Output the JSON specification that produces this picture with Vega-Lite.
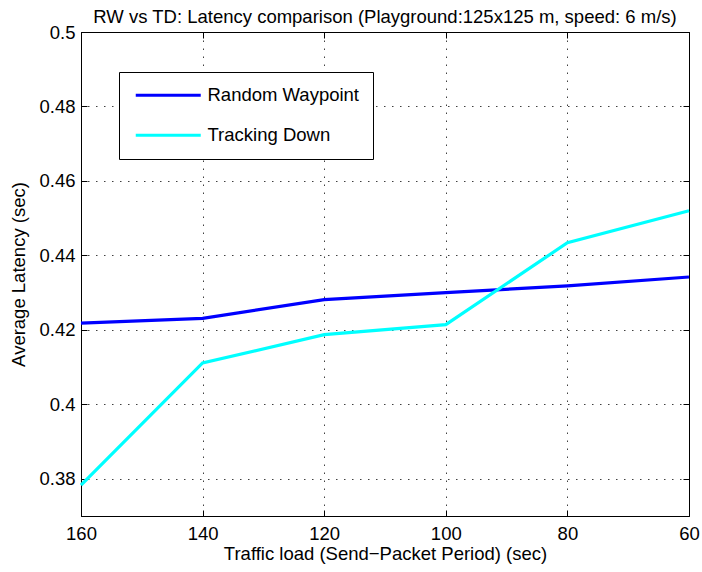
{
  "$schema": "https://vega.github.io/schema/vega-lite/v6.json",
  "width": 608,
  "height": 484,
  "autosize": {"type": "none"},
  "padding": {"left": 81, "top": 32, "right": 13, "bottom": 56},
  "background": "white",
  "config": {
    "font": "Liberation Sans",
    "view": {"stroke": "black", "strokeWidth": 1},
    "axis": {"labelFont": "Liberation Sans", "titleFont": "Liberation Sans", "labelColor": "black", "titleColor": "black", "labelFontSize": 18.5, "titleFontSize": 18.5, "titleFontWeight": "normal", "domainColor": "black", "tickColor": "black", "gridColor": "black", "gridDash": [1.5, 6.5], "gridOpacity": 0.75, "labelFlush": false, "labelOverlap": false}
  },
  "title": {"text": "RW vs TD: Latency comparison (Playground:125x125 m, speed: 6 m/s)", "font": "Liberation Sans", "fontSize": 18.5, "fontWeight": "normal", "color": "black", "offset": -3, "anchor": "middle"},
  "data": {"values": [
    {"period": 160, "latency": 0.4218, "model": "Random Waypoint"},
    {"period": 140, "latency": 0.4231, "model": "Random Waypoint"},
    {"period": 120, "latency": 0.4281, "model": "Random Waypoint"},
    {"period": 100, "latency": 0.4300, "model": "Random Waypoint"},
    {"period": 80, "latency": 0.4318, "model": "Random Waypoint"},
    {"period": 60, "latency": 0.4342, "model": "Random Waypoint"},
    {"period": 160, "latency": 0.3783, "model": "Tracking Down"},
    {"period": 140, "latency": 0.4111, "model": "Tracking Down"},
    {"period": 120, "latency": 0.4187, "model": "Tracking Down"},
    {"period": 100, "latency": 0.4214, "model": "Tracking Down"},
    {"period": 80, "latency": 0.4434, "model": "Tracking Down"},
    {"period": 60, "latency": 0.4520, "model": "Tracking Down"}
  ]},
  "layer": [
    {
      "mark": {"type": "line", "strokeWidth": 3.2},
      "encoding": {
        "x": {"field": "period", "type": "quantitative", "scale": {"domain": [60, 160], "reverse": true, "nice": false},
          "axis": {"orient": "bottom", "values": [160, 140, 120, 100, 80, 60], "title": "Traffic load (Send\u2212Packet Period) (sec)", "tickSize": -6, "labelPadding": 14, "titlePadding": 2, "grid": true}},
        "y": {"field": "latency", "type": "quantitative", "scale": {"domain": [0.37, 0.5], "nice": false, "zero": false},
          "axis": {"orient": "left", "values": [0.38, 0.4, 0.42, 0.44, 0.46, 0.48, 0.5], "format": ".2~f", "title": "Average Latency (sec)", "tickSize": -6, "labelPadding": 12, "titlePadding": 10, "grid": true}},
        "color": {"field": "model", "type": "nominal", "scale": {"domain": ["Random Waypoint", "Tracking Down"], "range": ["#0000ff", "#00ffff"]},
          "legend": {"title": null, "orient": "none", "legendX": 38, "legendY": 40, "symbolType": "M-1,0H9", "symbolSize": 169, "symbolStrokeWidth": 3.2, "labelFontSize": 18.5, "labelFont": "Liberation Sans", "labelColor": "black", "labelOffset": 56, "labelExpr": "datum.label + '\u00a0\u00a0\u00a0'", "strokeColor": "black", "fillColor": "white", "padding": 14, "rowPadding": 21}}
      }
    },
    {
      "mark": {"type": "point", "opacity": 0},
      "encoding": {
        "x": {"field": "period", "type": "quantitative",
          "axis": {"orient": "top", "values": [160, 140, 120, 100, 80, 60], "labels": false, "title": null, "tickSize": -6, "grid": false, "domain": false}},
        "y": {"field": "latency", "type": "quantitative",
          "axis": {"orient": "right", "values": [0.38, 0.4, 0.42, 0.44, 0.46, 0.48, 0.5], "labels": false, "title": null, "tickSize": -6, "grid": false, "domain": false}}
      }
    }
  ]
}
